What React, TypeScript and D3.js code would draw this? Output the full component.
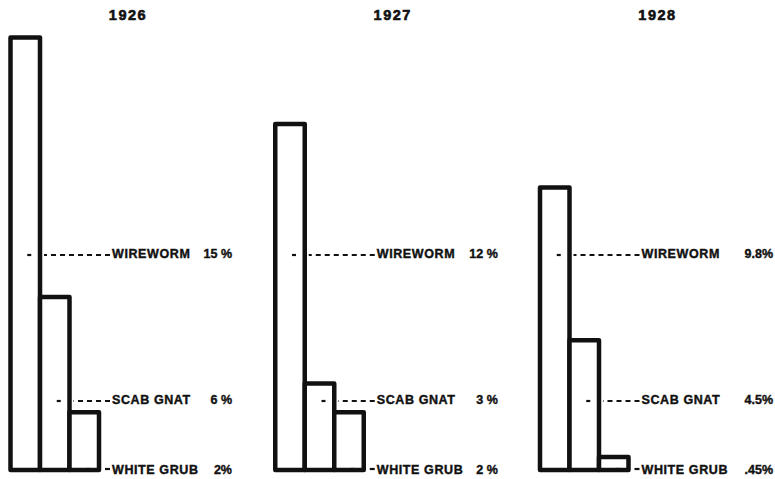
import React from "react";
import * as d3 from "d3";

const years = ["1926", "1927", "1928"];
const pests = ["WIREWORM", "SCAB GNAT", "WHITE GRUB"];
const wireworm = [15, 12, 9.8];
const scabGnat = [6, 3, 4.5];
const whiteGrub = [2, 2, 0.45];
const wirewormLabels = ["15 %", "12 %", "9.8%"];
const scabGnatLabels = ["6 %", "3 %", "4.5%"];
const whiteGrubLabels = ["2%", "2 %", ".45%"];

const W = 775;
const H = 479;
const baseline = 470;
const rowY = [254, 400, 468];
const pctRight = [221.5, 222.5, 233];

export default function App() {
  const series = [wireworm, scabGnat, whiteGrub];
  const labels = [wirewormLabels, scabGnatLabels, whiteGrubLabels];
  const gx = d3.scaleLinear().domain([0, 2]).range([10.5, 540]);
  const band = d3.scaleBand<string>().domain(pests).range([0, 88.5]).padding(0);
  const bw = band.bandwidth();
  const y = d3.scaleLinear().domain([0, 15]).range([baseline, 37.5]);
  const ink = "#111";
  const font = "'Liberation Sans', Arial, sans-serif";

  return (
    <svg
      width={W}
      height={H}
      style={{ position: "absolute", left: 0, top: 0, background: "#fff" }}
    >
      <rect x={0} y={0} width={W} height={H} fill="#fff" />
      {years.map((yr, i) => {
        const x0 = gx(i);
        return (
          <g key={yr}>
            <text
              x={x0 + 117.5}
              y={15}
              dy="0.35em"
              textAnchor="middle"
              fontFamily={font}
              fontWeight="bold"
              fontSize={14.5}
              letterSpacing={1.5}
              fill={ink}
              stroke={ink}
              strokeWidth={0.6}
            >
              {yr}
            </text>
            {pests.map((p, j) => {
              const v = series[j][i];
              return (
                <rect
                  key={p}
                  x={x0 + (band(p) as number)}
                  y={y(v)}
                  width={bw}
                  height={baseline - y(v)}
                  fill="#fff"
                  stroke={ink}
                  strokeWidth={4.5}
                  strokeLinejoin="round"
                />
              );
            })}
            {pests.map((p, j) => {
              const bx = x0 + (band(p) as number);
              const ry = rowY[j];
              const textX = x0 + 101.5;
              const startX = bx + bw + 4;
              const ty = j === 2 ? 470 : ry;
              return (
                <g key={p + "-lab"}>
                  <line
                    x1={bx + bw / 2 + 2}
                    x2={bx + bw / 2 + 6}
                    y1={ry + 1}
                    y2={ry + 1}
                    stroke={ink}
                    strokeWidth={2.2}
                  />
                  <line
                    x1={textX - 2}
                    x2={startX}
                    y1={ry + 1}
                    y2={ry + 1}
                    stroke={ink}
                    strokeWidth={2.2}
                    strokeDasharray="5 4"
                  />
                  <text
                    x={textX}
                    y={ty}
                    dy="0.35em"
                    fontFamily={font}
                    fontWeight="bold"
                    fontSize={12.5}
                    letterSpacing={0.6}
                    fill={ink}
                    stroke={ink}
                    strokeWidth={0.4}
                  >
                    {p}
                  </text>
                  <text
                    x={x0 + pctRight[i]}
                    y={ty}
                    dy="0.35em"
                    textAnchor="end"
                    fontFamily={font}
                    fontWeight="bold"
                    fontSize={12.5}
                    fill={ink}
                    stroke={ink}
                    strokeWidth={0.4}
                  >
                    {labels[j][i]}
                  </text>
                </g>
              );
            })}
          </g>
        );
      })}
    </svg>
  );
}
